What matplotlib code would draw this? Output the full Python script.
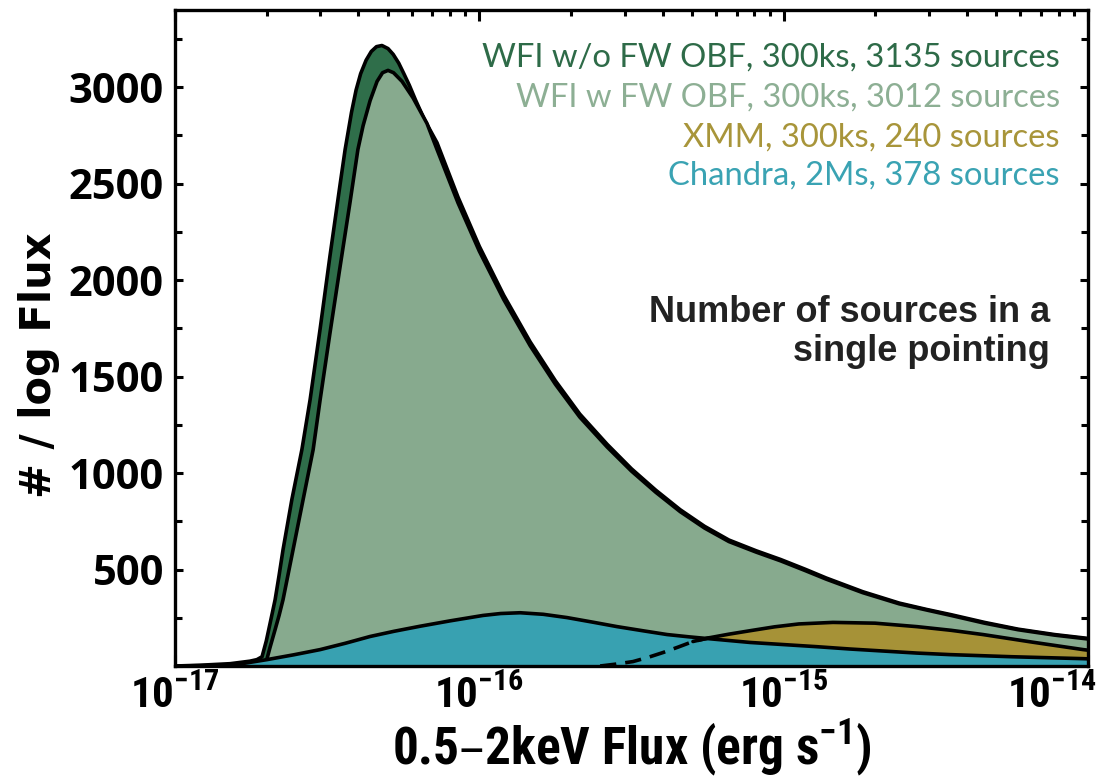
import numpy as np
import matplotlib
matplotlib.use("Agg")
import matplotlib.pyplot as plt
from matplotlib.ticker import FixedLocator, MultipleLocator, LogLocator, NullFormatter
import matplotlib.transforms as mtransforms

# ---------------- data (log10 flux, number per log flux) ----------------
nofw_logf = [-17.0, -16.918, -16.819, -16.754, -16.731, -16.714, -16.700, -16.685,
             -16.671, -16.658, -16.645, -16.616, -16.583, -16.556, -16.523, -16.491,
             -16.458, -16.441, -16.420, -16.405, -16.390, -16.372, -16.355, -16.338,
             -16.320, -16.300, -16.283, -16.265, -16.248, -16.230, -16.210, -16.180,
             -16.139, -16.07, -16.0, -15.92, -15.833, -15.75, -15.67, -15.58, -15.5,
             -15.42, -15.34, -15.26, -15.18, -15.09, -15.01, -14.93, -14.86, -14.74,
             -14.62, -14.53, -14.45, -14.34, -14.23, -14.11, -14.0]
nofw_n = [0, 4, 12, 25, 33, 48, 130, 240, 344, 470, 603, 863, 1122, 1381, 1749, 2123,
          2491, 2677, 2870, 2985, 3070, 3140, 3185, 3210, 3216, 3200, 3170, 3125, 3070,
          3010, 2935, 2830, 2712, 2430, 2175, 1922, 1680, 1478, 1306, 1149, 1022, 911,
          810, 724, 653, 597, 552, 502, 456, 385, 326, 293, 266, 226, 191, 163, 143]

fw_logf = [-16.704, -16.688, -16.671, -16.658, -16.645, -16.612, -16.579, -16.546,
           -16.523, -16.491, -16.458, -16.425, -16.399, -16.382, -16.359, -16.336,
           -16.318, -16.300, -16.282, -16.254, -16.218, -16.172, -16.139, -16.07,
           -16.0, -15.92, -15.833, -15.75, -15.67, -15.58, -15.5, -15.42, -15.34,
           -15.26, -15.18, -15.09, -15.01, -14.93, -14.86, -14.74, -14.62, -14.53,
           -14.45, -14.34, -14.23, -14.11, -14.0]
fw_n = [0, 95, 189, 262, 344, 603, 863, 1122, 1381, 1723, 2065, 2402, 2677, 2800,
        2930, 3030, 3075, 3087, 3075, 3030, 2945, 2812, 2677, 2400, 2150, 1900, 1660,
        1460, 1290, 1135, 1010, 900, 800, 715, 645, 590, 545, 495, 450, 380, 322, 290,
        262, 222, 188, 160, 140]

xmm_logf = [-15.603, -15.55, -15.495, -15.445, -15.396, -15.345, -15.298, -15.242,
            -15.18, -15.110, -15.03, -14.95, -14.838, -14.70, -14.562, -14.45, -14.345,
            -14.18, -14.016, -14.0]
xmm_n = [0, 10, 23, 45, 70, 99, 127, 147, 165, 183, 203, 218, 226, 222, 204, 185, 163,
         123, 85, 82]

chandra_logf = [-17.0, -16.90, -16.796, -16.698, -16.61, -16.523, -16.44, -16.359,
                -16.28, -16.195, -16.096, -15.988, -15.93, -15.866, -15.79, -15.712,
                -15.63, -15.547, -15.46, -15.383, -15.31, -15.242, -15.110, -14.890,
                -14.782, -14.562, -14.453, -14.25, -14.016, -14.0]
chandra_n = [0, 2, 8, 33, 58, 85, 118, 153, 180, 206, 234, 262, 272, 276, 268, 251,
             228, 204, 182, 163, 151, 141, 122, 100, 88, 67, 59, 48, 38, 37]

legend_labels = ["WFI w/o FW OBF, 300ks, 3135 sources",
                 "WFI w FW OBF, 300ks, 3012 sources",
                 "XMM, 300ks, 240 sources",
                 "Chandra, 2Ms, 378 sources"]
note_text = "Number of sources in a\nsingle pointing"
xtick_vals = [1e-17, 1e-16, 1e-15, 1e-14]
xtick_labels = ["10$^{-17}$", "10$^{-16}$", "10$^{-15}$", "10$^{-14}$"]
ytick_vals = [500, 1000, 1500, 2000, 2500, 3000]

# ---------------- style ----------------
c_dark = "#2F6E4A"
c_light = "#87AA8E"
c_gold = "#A69237"
c_teal = "#38A1B1"
text_colors = ["#2E6B48", "#8DAF94", "#A8953A", "#3AA3B3"]
LW = 2.6

plt.rcParams["mathtext.default"] = "regular"
narrow = ["Roboto Condensed", "Open Sans Condensed", "Liberation Sans Narrow", "Roboto"]

fig = plt.figure(figsize=(11.02, 7.81), dpi=100)
ax = fig.add_axes([175 / 1102, (781 - 666) / 781, 913 / 1102, 656 / 781])

fx = lambda lf: np.power(10.0, np.asarray(lf, dtype=float))
lkw = dict(color="black", lw=LW, solid_joinstyle="round", solid_capstyle="round")

# WFI without filter (dark)
ax.fill_between(fx(nofw_logf), nofw_n, 0, color=c_dark, lw=0, zorder=1)
ax.plot(fx(nofw_logf), nofw_n, zorder=2, **lkw)
# WFI with filter (light)
ax.fill_between(fx(fw_logf), fw_n, 0, color=c_light, lw=0, zorder=3)
ax.plot(fx(fw_logf), fw_n, zorder=4, **lkw)
# XMM
ax.fill_between(fx(xmm_logf), xmm_n, 0, color=c_gold, lw=0, zorder=5)
# Chandra
ax.fill_between(fx(chandra_logf), chandra_n, 0, color=c_teal, lw=0, zorder=6)
ax.plot(fx(chandra_logf), chandra_n, zorder=7, **lkw)
# XMM outline: dashed where hidden under Chandra, solid where above
xm = np.asarray(xmm_n, dtype=float)
ch_at = np.interp(xmm_logf, chandra_logf, chandra_n)
above = xm >= ch_at
k = int(np.argmax(above))
ax.plot(fx(xmm_logf[:k + 1]), xm[:k + 1], color="black", lw=LW, ls=(0, (4.5, 2.5)), zorder=8)
ax.plot(fx(xmm_logf[k - 1:]), xm[k - 1:], zorder=8, **lkw)

ax.set_xscale("log")
ax.set_xlim(1e-17, 1e-14)
ax.set_ylim(0, 3400)

ax.xaxis.set_major_locator(FixedLocator(xtick_vals))
ax.set_xticklabels(xtick_labels, family=narrow, fontweight="bold", fontsize=31)
ax.xaxis.set_minor_locator(LogLocator(base=10, subs=np.arange(2, 10), numticks=20))
ax.xaxis.set_minor_formatter(NullFormatter())
ax.yaxis.set_major_locator(FixedLocator(ytick_vals))
ax.yaxis.set_minor_locator(MultipleLocator(250))
for lab in ax.get_yticklabels():
    lab.set_family("Open Sans")
    lab.set_fontweight("bold")
    lab.set_fontsize(30)

ax.tick_params(which="both", direction="in", top=True, right=True, width=2.2, colors="black")
ax.tick_params(axis="x", which="major", length=8, pad=7)
ax.tick_params(axis="x", which="minor", length=4.5)
ax.tick_params(axis="y", which="major", length=6, pad=8)
ax.tick_params(axis="y", which="minor", length=5)
for sp in ax.spines.values():
    sp.set_linewidth(2.4)
    sp.set_zorder(20)

# shift last x tick label inwards so it stays on the canvas
tk = ax.xaxis.get_major_ticks()[-1]
tk.label1.set_transform(tk.label1.get_transform() +
                        mtransforms.ScaledTranslation(-0.36, 0, fig.dpi_scale_trans))

ax.set_xlabel("0.5\u20132keV Flux (erg s$^{-1}$)", family=narrow, fontweight="bold",
              fontsize=37, labelpad=0)
ax.set_ylabel("# / log Flux", family="DejaVu Sans", fontweight="bold", fontsize=30)
ax.yaxis.set_label_coords(-0.126, 0.459)

ys = [0.928, 0.866, 0.806, 0.747]
for lab, col, yy in zip(legend_labels, text_colors, ys):
    ax.text(0.969, yy, lab, transform=ax.transAxes, ha="right", va="center",
            color=col, fontsize=23.6, family="Lato", zorder=30)

ax.text(0.958, 0.509, note_text, transform=ax.transAxes, ha="right", va="center",
        color="#222222", fontsize=26, family="Liberation Sans", fontweight="bold",
        linespacing=1.12, zorder=30)

fig.savefig("out.png", dpi=100)
